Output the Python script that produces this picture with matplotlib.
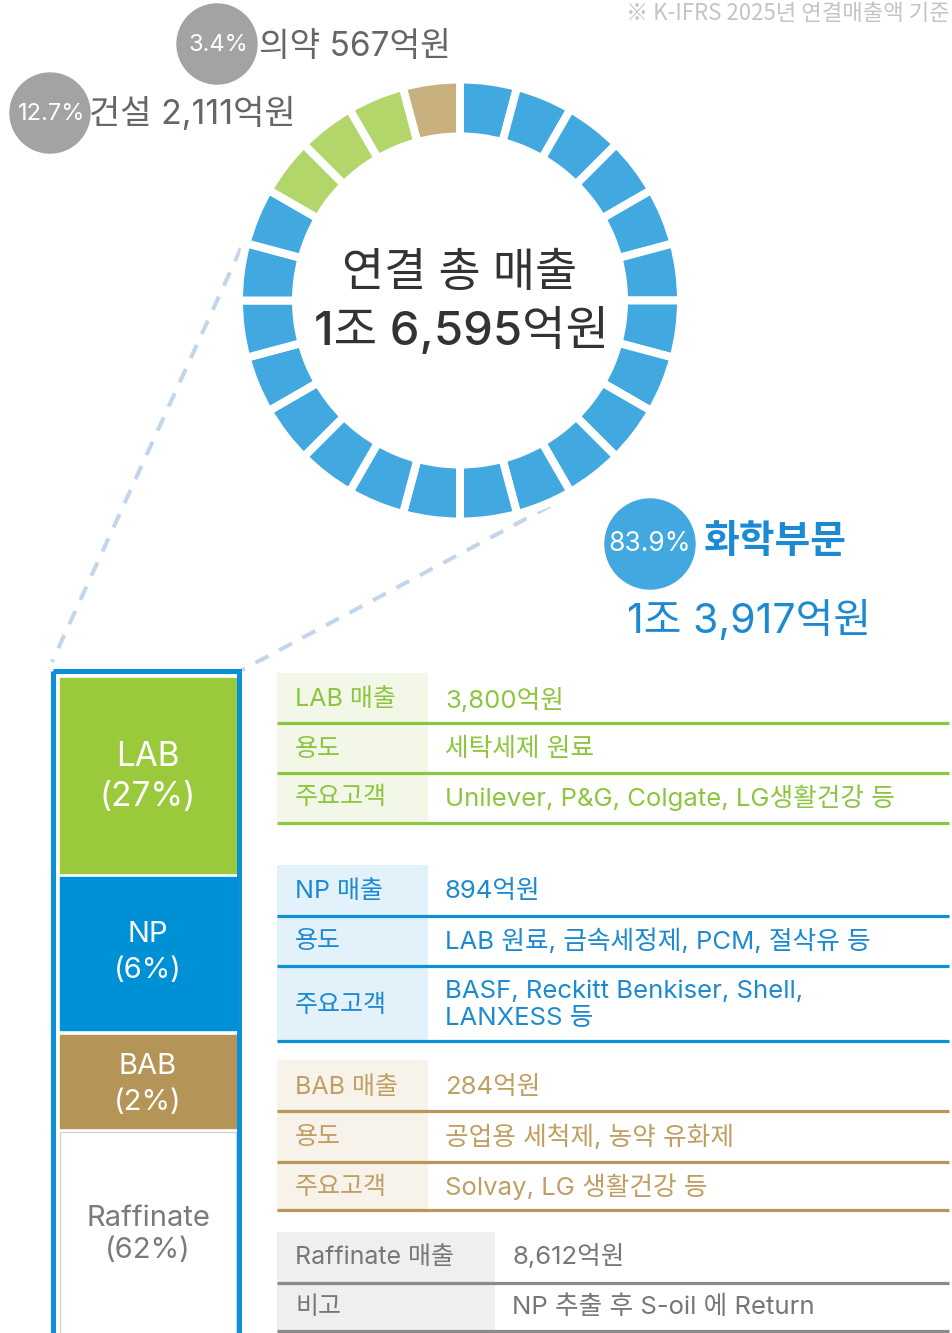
import matplotlib
matplotlib.use("Agg")
import matplotlib.pyplot as plt
from matplotlib.patches import Wedge, Circle, Rectangle

plt.rcParams['font.family'] = ['Inter', 'Noto Sans CJK KR', 'DejaVu Sans']

# ---------------- data ----------------
segment_names = ['화학부문', '건설', '의약']
segment_pct = [83.9, 12.7, 3.4]
segment_amounts = ['1조 3,917억원', '2,111억원', '567억원']
total_title = '연결 총 매출'
total_amount = '1조 6,595억원'
note = '※ K-IFRS 2025년 연결매출액 기준'

products = ['LAB', 'NP', 'BAB', 'Raffinate']
product_pct = [27, 6, 2, 62]

lab_rows = [('LAB 매출', '3,800억원'), ('용도', '세탁세제 원료'),
            ('주요고객', 'Unilever, P&G, Colgate, LG생활건강 등')]
np_rows = [('NP 매출', '894억원'), ('용도', 'LAB 원료, 금속세정제, PCM, 절삭유 등'),
           ('주요고객', 'BASF, Reckitt Benkiser, Shell,\nLANXESS 등')]
bab_rows = [('BAB 매출', '284억원'), ('용도', '공업용 세척제, 농약 유화제'),
            ('주요고객', 'Solvay, LG 생활건강 등')]
raff_rows = [('Raffinate 매출', '8,612억원'), ('비고', 'NP 추출 후 S-oil 에 Return')]

# ---------------- styles ----------------
ring_colors = ['#41a9df', '#b3d66b', '#c8b07f']
blue_text = '#1c8ad3'
gray_circle = '#a3a3a3'
gray_text = '#666666'

fig = plt.figure(figsize=(9.52, 13.33), dpi=100)
ax = fig.add_axes([0, 0, 1, 1])
ax.set_xlim(0, 952)
ax.set_ylim(1333, 0)
ax.axis('off')

# ---------------- dashed connectors ----------------
dash_col = '#c3d5eb'
ax.plot([252, 52], [224, 662], color=dash_col, lw=2.9, ls=(0, (3.6, 3.0)), zorder=1)
ax.plot([550, 242], [506, 670], color=dash_col, lw=2.9, ls=(0, (3.6, 3.0)), zorder=1)

# ---------------- donut ----------------
n_seg = 24
counts = [round(p / 100 * n_seg) for p in segment_pct]
cx, cy = 460, 300.5
R_out, R_in = 217, 168
gap_px = 8
seg_colors = []
for c, col in zip(counts, ring_colors):
    seg_colors += [col] * c
step = 360 / n_seg
lw_pt = gap_px * 0.72
for i, col in enumerate(seg_colors):
    t1 = -90 + step * i
    t2 = t1 + step
    w = Wedge((cx, cy), R_out + gap_px / 2, t1, t2, width=(R_out - R_in) + gap_px,
              facecolor=col, edgecolor='white', lw=lw_pt, zorder=2)
    ax.add_patch(w)

ax.text(cx, 274, total_title, ha='center', va='center', fontsize=33, color='#333333',
        fontweight='medium', zorder=3)
ax.text(cx + 2, 331, total_amount, ha='center', va='center', fontsize=34, color='#333333',
        fontweight='medium', zorder=3)

# ---------------- callouts ----------------
# pharma
ax.add_patch(Circle((217, 44), 40, color=gray_circle, zorder=2))
ax.text(218, 45, f'{segment_pct[2]}%', ha='center', va='center', fontsize=17, color='white', zorder=3)
ax.text(259, 47, f'{segment_names[2]} {segment_amounts[2]}', ha='left', va='center',
        fontsize=24, color=gray_text, zorder=3)
# construction
ax.add_patch(Circle((50, 113), 40, color=gray_circle, zorder=2))
ax.text(52, 114, f'{segment_pct[1]}%', ha='center', va='center', fontsize=17, color='white', zorder=3)
ax.text(89, 114, f'{segment_names[1]} {segment_amounts[1]}', ha='left', va='center',
        fontsize=24.5, color=gray_text, zorder=3)
# chemical
ax.add_patch(Circle((650, 544), 45, color='#41a9df', zorder=2))
ax.text(650, 544, f'{segment_pct[0]}%', ha='center', va='center', fontsize=19, color='white', zorder=3)
ax.text(704, 542, segment_names[0], ha='left', va='center', fontsize=28, color=blue_text,
        fontweight='bold', zorder=3)
ax.text(627, 620, segment_amounts[0], ha='left', va='center', fontsize=29.5, color=blue_text,
        zorder=3)

# note
ax.text(950, 14, note, ha='right', va='center', fontsize=16, color='#c4c4c4',
        family=['Noto Sans CJK KR', 'DejaVu Sans'], zorder=3)

# ---------------- stacked product column ----------------
ax.add_patch(Rectangle((52.5, 670.5), 186, 700, fill=False, edgecolor='#0a8fd8', lw=3.6, zorder=4))
bar_specs = [  # y_top, y_bot, face, text colour, label ys, fontsize
    (678, 873, '#9aca3c', 'white', (757, 797), 24),
    (877, 1030, '#0090d6', 'white', (934, 970), 21),
    (1035, 1128, '#b49557', 'white', (1067, 1102), 21),
    (1132, 1400, 'white', '#7a7a7a', (1218, 1251), 21),
]
for (y0, y1, fc, tc, (ly1, ly2), fs), name, pct in zip(bar_specs, products, product_pct):
    ec = '#d5d5d5' if fc == 'white' else fc
    ax.add_patch(Rectangle((60, y0), 176, y1 - y0, facecolor=fc, edgecolor=ec, lw=1, zorder=3))
    ax.text(148, ly1, name, ha='center', va='center', fontsize=fs, color=tc, zorder=5)
    ax.text(148, ly2, f'({pct}%)', ha='center', va='center', fontsize=fs, color=tc, zorder=5)

# ---------------- tables ----------------
def draw_table(rows, top, line_ys, text_ys, label_w, val_x, txt_col, line_col, bg_col):
    ax.add_patch(Rectangle((277, top), label_w, line_ys[-1] - top, facecolor=bg_col,
                           edgecolor='none', zorder=2))
    for ly in line_ys:
        ax.plot([277, 949], [ly, ly], color=line_col, lw=2.3, solid_capstyle='butt', zorder=3)
    for (lab, val), ty in zip(rows, text_ys):
        ax.text(295, ty, lab, ha='left', va='center', fontsize=18, color=txt_col, zorder=4)
        ax.text(val_x, ty, val, ha='left', va='center', fontsize=18.5, color=txt_col,
                linespacing=1.25, zorder=4)

draw_table(lab_rows, 673, [723, 773, 823], [700, 749, 798], 151, 445,
           '#8cc63e', '#8cc63e', '#f2f7e8')
draw_table(np_rows, 865, [916, 966, 1041], [891, 941, 1005], 151, 445,
           blue_text, '#0b8fd6', '#e3f1fa')
draw_table(bab_rows, 1060, [1111, 1162, 1210], [1087, 1137, 1187], 151, 445,
           '#bf9f63', '#b8975a', '#f7f3ea')
draw_table(raff_rows, 1232, [1283, 1331], [1257, 1307], 218, 512,
           '#777777', '#8a8a8a', '#efefef')

fig.savefig('out.png', dpi=100)
